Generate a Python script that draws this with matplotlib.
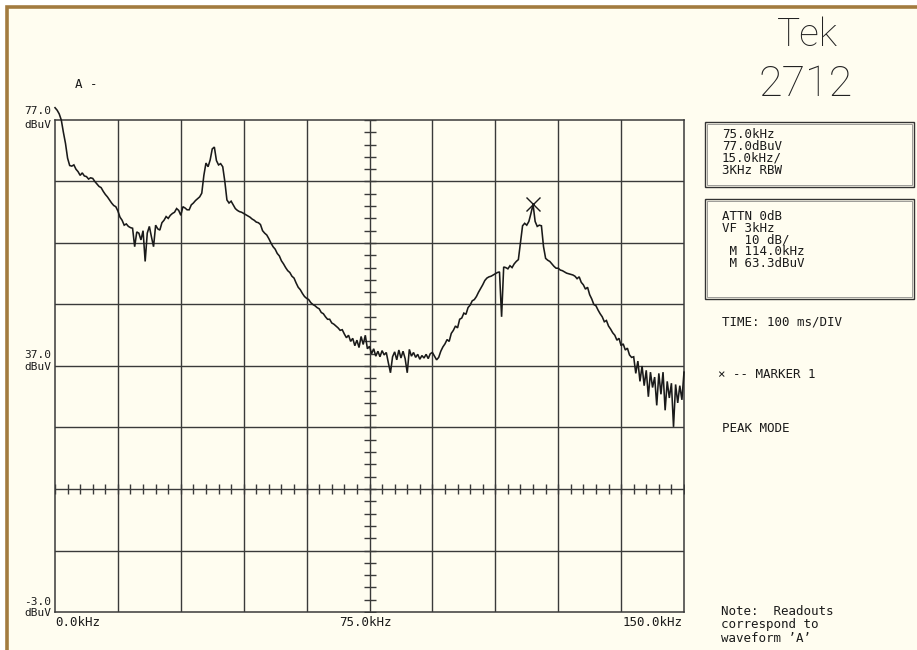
import numpy as np
import matplotlib
matplotlib.use("Agg")
import matplotlib.pyplot as plt
from matplotlib.patches import Rectangle

# ---------------- data ----------------
SWEEP_START_KHZ = 0.0
SWEEP_STEP_KHZ = 0.5
level_dbuv = [
    79.0, 78.6, 78.0, 77.0, 75.0, 73.2, 70.8, 69.6, 69.5, 69.7,   # 0 - 4.5 kHz
    69.0, 68.6, 68.0, 68.4, 67.9, 67.8, 67.4, 67.6, 67.5, 67.0,   # 5
    66.6, 66.2, 66.0, 65.4, 64.9, 64.5, 64.0, 63.5, 63.1, 62.9,   # 10
    62.2, 61.2, 60.7, 59.9, 60.1, 59.7, 59.5, 59.4, 56.4, 58.8,   # 15
    58.6, 57.5, 59.0, 54.0, 58.6, 59.7, 58.0, 56.4, 59.9, 59.3,   # 20
    59.1, 60.3, 60.7, 61.3, 61.0, 61.5, 61.8, 62.0, 62.6, 62.3,   # 25
    61.5, 62.9, 62.7, 62.4, 62.4, 63.2, 63.5, 63.9, 64.2, 64.5,   # 30
    65.1, 68.0, 70.0, 69.4, 70.5, 72.3, 72.6, 70.4, 69.7, 69.9,   # 35
    69.4, 67.0, 64.0, 63.5, 63.8, 63.2, 62.6, 62.3, 62.1, 62.0,   # 40
    61.8, 61.6, 61.4, 61.2, 60.9, 60.7, 60.4, 60.3, 60.0, 59.0,   # 45
    58.6, 58.3, 57.7, 57.0, 56.4, 56.0, 55.3, 54.9, 54.1, 53.6,   # 50
    53.0, 52.5, 52.2, 51.6, 51.3, 50.5, 49.8, 49.4, 48.8, 48.3,   # 55
    48.0, 47.8, 47.3, 47.0, 46.8, 46.5, 46.3, 45.7, 45.5, 45.0,   # 60
    44.6, 44.6, 44.0, 43.8, 43.5, 43.2, 42.8, 42.9, 42.2, 41.6,   # 65
    42.0, 41.0, 41.5, 40.3, 41.2, 40.0, 41.8, 40.5, 42.0, 39.8,   # 70
    40.2, 39.0, 39.8, 38.6, 39.4, 38.5, 39.5, 38.8, 39.2, 37.5,   # 75
    35.9, 38.5, 39.3, 38.0, 39.6, 38.3, 39.4, 38.2, 35.9, 39.7,   # 80
    38.6, 39.2, 38.4, 38.9, 38.1, 38.7, 38.3, 38.9, 38.2, 39.0,   # 85
    39.2, 38.6, 38.0, 38.4, 39.4, 40.1, 40.6, 41.3, 41.0, 42.3,   # 90
    42.8, 43.5, 43.2, 44.6, 44.8, 45.6, 45.4, 46.5, 46.9, 47.6,   # 95
    47.8, 48.3, 49.0, 49.6, 50.2, 50.9, 51.3, 51.5, 51.6, 51.8,   # 100
    52.0, 52.2, 52.3, 45.0, 53.1, 53.0, 52.8, 53.3, 53.0, 53.6,   # 105
    54.0, 54.3, 57.0, 59.8, 60.2, 59.9, 60.5, 61.8, 63.3, 60.5,   # 110
    59.7, 59.9, 59.8, 56.4, 54.5, 54.2, 54.0, 53.6, 53.2, 52.9,   # 115
    52.9, 52.6, 52.5, 52.3, 52.1, 52.0, 51.9, 51.8, 51.6, 51.2,   # 120
    51.5, 50.6, 50.2, 49.5, 49.8, 48.6, 47.9, 47.0, 46.8, 46.1,   # 125
    45.5, 45.0, 44.2, 44.4, 43.5, 43.0, 42.4, 42.0, 41.2, 41.5,   # 130
    40.3, 40.6, 39.6, 39.9, 38.8, 38.4, 38.5, 35.8, 37.8, 34.5,   # 135
    37.0, 33.8, 36.3, 32.0, 36.0, 33.5, 35.2, 30.6, 35.8, 32.4,   # 140
    36.0, 29.8, 34.5, 31.8, 34.2, 27.1, 34.0, 31.0, 33.8, 31.5,   # 145
    36.0,                                                         # 150
]
freq_khz = SWEEP_START_KHZ + SWEEP_STEP_KHZ * np.arange(len(level_dbuv))

freq_span = (0.0, 150.0)
level_span = (-3.0, 77.0)
freq_per_div = 15.0
db_per_div = 10.0
center_freq = 75.0
tick_axis_level = 17.0

level_labels = ["77.0", "37.0", "-3.0"]
level_label_values = [77.0, 37.0, -3.0]
freq_labels = ["0.0kHz", "75.0kHz", "150.0kHz"]
freq_label_values = [0.0, 75.0, 150.0]

marker_freq = 114.0
marker_level = 63.3

readout_1 = ["75.0kHz", "77.0dBuV", "15.0kHz/", "3KHz RBW"]
readout_2 = ["ATTN 0dB", "VF 3kHz", "   10 dB/", " M 114.0kHz", " M 63.3dBuV"]
notes = ["TIME: 100 ms/DIV", "\u00d7 -- MARKER 1", "PEAK MODE"]
footnote = ["Note:  Readouts", "correspond to", "waveform \u2019A\u2019"]

# ---------------- figure ----------------
W, H = 917, 650
BG = "#FFFDF0"
BORDER = "#A27B3F"
INK = "#1a1a1a"
GRID = "#3a3a3a"

fig = plt.figure(figsize=(W / 100, H / 100), dpi=100, facecolor="white")

# cream sheet with brown border (top/left visible)
fig.add_artist(Rectangle((6.5 / W, -0.2), 2.0, 1.2 - 6.5 / H, transform=fig.transFigure,
                         facecolor=BG, edgecolor=BORDER, linewidth=2.6, zorder=0))

def px(x):
    return x / W

def py(y):
    return 1 - y / H

ax = fig.add_axes([px(55), 1 - 612 / H, 629 / W, 492 / H])
ax.set_facecolor("none")
ax.set_xlim(*freq_span)
ax.set_ylim(*level_span)
for s in ax.spines.values():
    s.set_color(GRID)
    s.set_linewidth(1.1)
ax.set_xticks([])
ax.set_yticks([])

# graticule
for xv in np.arange(freq_span[0] + freq_per_div, freq_span[1], freq_per_div):
    ax.axvline(xv, color=GRID, lw=1.0, zorder=1)
for yv in np.arange(level_span[0] + db_per_div, level_span[1], db_per_div):
    ax.axhline(yv, color=GRID, lw=1.0, zorder=1)

# minor ticks on the centre lines
minor_x = np.arange(freq_span[0], freq_span[1] + 0.01, freq_per_div / 5)
ax.plot(minor_x, np.full_like(minor_x, tick_axis_level), ls="none", marker="|",
        ms=7.5, mew=1.0, color=GRID, zorder=1)
minor_y = np.arange(level_span[0], level_span[1] + 0.01, db_per_div / 5)
ax.plot(np.full_like(minor_y, center_freq), minor_y, ls="none", marker="_",
        ms=8.5, mew=1.0, color=GRID, zorder=1)

# trace
ax.plot(freq_khz, level_dbuv, color=INK, lw=1.15, zorder=3, clip_on=False,
        solid_joinstyle="miter")

# marker
ax.plot([marker_freq], [marker_level], ls="none", marker="x", ms=10, mew=1.0,
        color=INK, zorder=4, clip_on=False)

SMALL = dict(family="DejaVu Sans Mono", fontsize=9, color=INK)
LEFT = dict(family="DejaVu Sans Mono", fontsize=8, color=INK)

# level labels (value above, unit below)
label_offsets = {77.0: (-9.5, 4.5), 37.0: (-11.0, 0.5), -3.0: (-10.0, 1.5)}
for lab, v in zip(level_labels, level_label_values):
    ypix = 612 - (v - level_span[0]) / (level_span[1] - level_span[0]) * 492
    o1, o2 = label_offsets[v]
    fig.text(px(51), py(ypix + o1), lab, ha="right", va="center", **LEFT)
    fig.text(px(51), py(ypix + o2), "dBuV", ha="right", va="center", **LEFT)

# freq labels
for lab, v in zip(freq_labels, freq_label_values):
    xpix = 55 + (v - freq_span[0]) / (freq_span[1] - freq_span[0]) * 629
    if v == freq_span[0]:
        fig.text(px(xpix), py(622), lab, ha="left", va="center", **SMALL)
    elif v == freq_span[1]:
        fig.text(px(xpix - 1), py(622), lab, ha="right", va="center", **SMALL)
    else:
        fig.text(px(xpix - 4), py(622), lab, ha="center", va="center", **SMALL)

fig.text(px(75), py(85), "A -", ha="left", va="center", **SMALL)

# title block
fig.text(px(807), py(35), "Tek", ha="center", va="center", family="Roboto",
         weight="light", fontsize=28, color="#222222")
fig.text(px(806), py(84), "2712", ha="center", va="center", family="Roboto",
         weight="light", fontsize=31, color="#222222")

# readout boxes
for (x0, y0, x1, y1) in [(705, 122, 914, 187), (705, 199, 914, 299)]:
    fig.add_artist(Rectangle((px(x0), py(y1)), (x1 - x0) / W, (y1 - y0) / H,
                             transform=fig.transFigure, facecolor="none",
                             edgecolor="#333333", linewidth=1.0))
    fig.add_artist(Rectangle((px(x0 + 2), py(y1 - 2)), (x1 - x0 - 4) / W, (y1 - y0 - 4) / H,
                             transform=fig.transFigure, facecolor="none",
                             edgecolor="#777777", linewidth=0.5))

for i, s in enumerate(readout_1):
    fig.text(px(722), py(135 + 11.7 * i), s, ha="left", va="center", **SMALL)
for i, s in enumerate(readout_2):
    fig.text(px(722), py(216.5 + 11.7 * i), s, ha="left", va="center", **SMALL)

fig.text(px(722), py(322), notes[0], ha="left", va="center", **SMALL)
fig.text(px(718), py(374), notes[1], ha="left", va="center", **SMALL)
fig.text(px(722), py(428), notes[2], ha="left", va="center", **SMALL)

for i, s in enumerate(footnote):
    fig.text(px(721), py(611.5 + 13.3 * i), s, ha="left", va="center", **SMALL)

fig.savefig("out.png", dpi=100, facecolor="white")
